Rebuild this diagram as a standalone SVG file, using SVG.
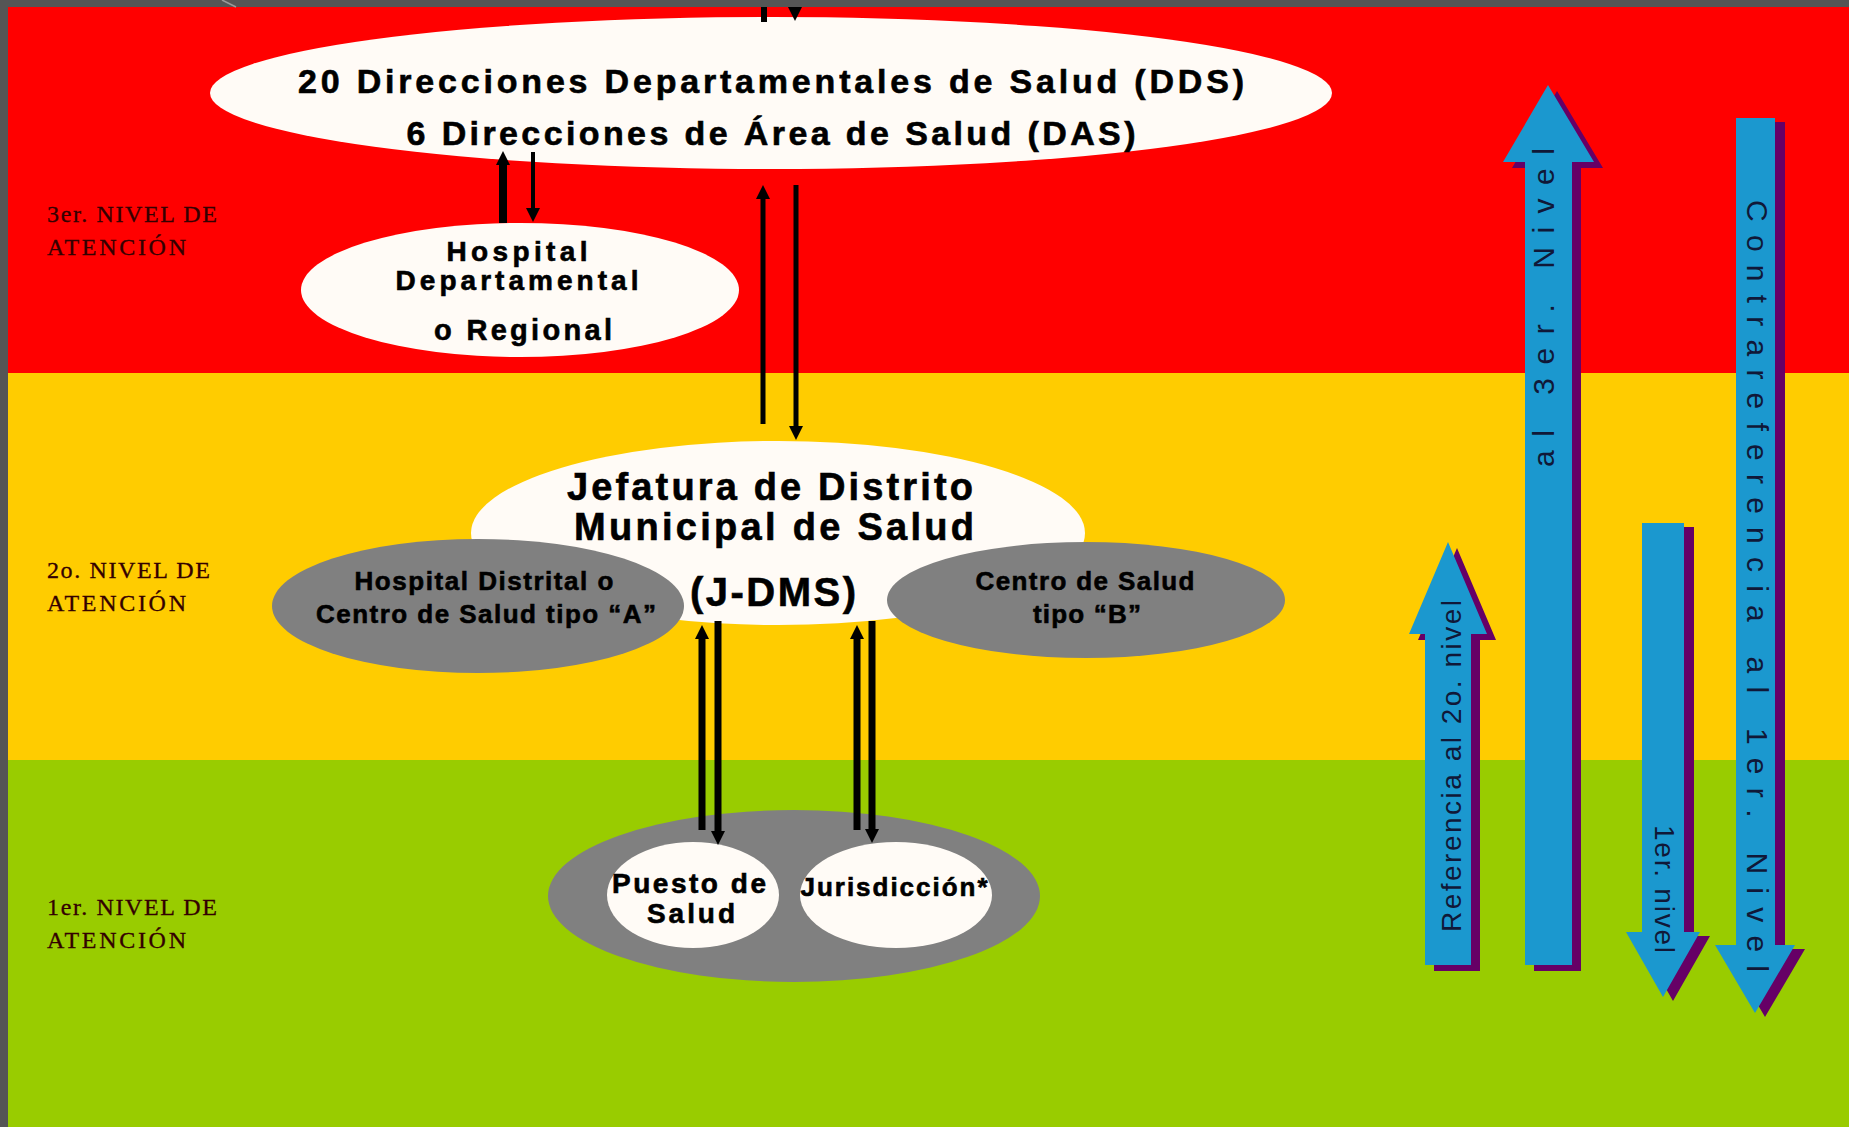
<svg xmlns="http://www.w3.org/2000/svg" width="1849" height="1127" viewBox="0 0 1849 1127">
<style>
.lvl{font-family:"Liberation Serif","Times New Roman",serif;font-size:24px;fill:#330000;stroke:#330000;stroke-width:0.3}
.bt{font-family:"Liberation Sans",Arial,sans-serif;font-weight:bold;fill:#000;stroke:#000;stroke-width:0.6;text-anchor:middle}
.wt{fill:#FFFBF6}
.gr{fill:#808080}
.blue{fill:#1B98CF}
.shd{fill:#660066}
.at{font-family:"Liberation Sans",Arial,sans-serif;fill:#101838}
.ln{stroke:#000;fill:none}
</style>
<defs>
<marker id="ah" markerUnits="userSpaceOnUse" markerWidth="14" markerHeight="14" viewBox="0 0 14 14" refX="1" refY="7" orient="auto">
<path d="M0,0 L14,7 L0,14 Z" fill="#000"/>
</marker>
<path id="arrA" d="M1448,542 L1487,634 L1471,634 L1471,965 L1425,965 L1425,634 L1409,634 Z"/>
<path id="arrB" d="M1548,85 L1594,162 L1572,162 L1572,965 L1525,965 L1525,162 L1503,162 Z"/>
<path id="arrC" d="M1642,523 L1684,523 L1684,932 L1700,932 L1663,997 L1626,932 L1642,932 Z"/>
<path id="arrD" d="M1736,118 L1775,118 L1775,945 L1795,945 L1755,1013 L1715,945 L1736,945 Z"/>
</defs>

<g id="background">
<rect x="0" y="0" width="1849" height="1127" fill="#555555"/>
<rect x="8" y="7" width="1841" height="367" fill="#FF0000"/>
<rect x="8" y="373" width="1841" height="388" fill="#FFCC00"/>
<rect x="8" y="760" width="1841" height="367" fill="#99CC00"/>
<line x1="222" y1="0" x2="236" y2="7" stroke="#9a9a9a" stroke-width="1.5"/>
</g>

<g id="level-labels">
<text class="lvl" x="47" y="222" textLength="170">3er. NIVEL DE</text>
<text class="lvl" x="47" y="255" textLength="139">ATENCIÓN</text>
<text class="lvl" x="47" y="578" textLength="163">2o. NIVEL DE</text>
<text class="lvl" x="47" y="611" textLength="139">ATENCIÓN</text>
<text class="lvl" x="47" y="915" textLength="170">1er. NIVEL DE</text>
<text class="lvl" x="47" y="948" textLength="139">ATENCIÓN</text>
</g>

<g id="node-dds">
<ellipse class="wt" cx="771" cy="93" rx="561" ry="76"/>
<text class="bt" x="771" y="93" font-size="34" textLength="946">20 Direcciones Departamentales de Salud (DDS)</text>
<text class="bt" x="771" y="145" font-size="34" textLength="729">6 Direcciones de Área de Salud (DAS)</text>
</g>

<g id="node-hospital-departamental">
<ellipse class="wt" cx="520" cy="290" rx="219" ry="67"/>
<text class="bt" x="517" y="261" font-size="28" textLength="141">Hospital</text>
<text class="bt" x="517" y="290" font-size="28" textLength="243">Departamental</text>
<text class="bt" x="523" y="340" font-size="29" textLength="178">o Regional</text>
</g>

<g id="node-jdms">
<ellipse class="wt" cx="778" cy="533" rx="307" ry="92"/>
<text class="bt" x="770" y="500" font-size="38" textLength="406">Jefatura de Distrito</text>
<text class="bt" x="774" y="540" font-size="38" textLength="400">Municipal de Salud</text>
</g>

<g id="node-hospital-distrital">
<ellipse class="gr" cx="478" cy="606" rx="206" ry="67"/>
<text class="bt" x="484" y="590" font-size="26" textLength="259">Hospital Distrital o</text>
<text class="bt" x="486" y="623" font-size="26" textLength="340">Centro de Salud tipo “A”</text>
</g>

<g id="node-centro-b">
<ellipse class="gr" cx="1086" cy="600" rx="199" ry="58"/>
<text class="bt" x="1085" y="590" font-size="26" textLength="219">Centro de Salud</text>
<text class="bt" x="1087" y="623" font-size="26" textLength="108">tipo “B”</text>
</g>

<g id="node-jdms-label">
<text class="bt" x="773" y="606" font-size="40" textLength="166">(J-DMS)</text>
</g>

<g id="node-primer-nivel">
<ellipse class="gr" cx="794" cy="896" rx="246" ry="86"/>
</g>
<g id="node-puesto">
<ellipse class="wt" cx="693" cy="895" rx="86" ry="53"/>
<text class="bt" x="689" y="893" font-size="28" textLength="154">Puesto de</text>
<text class="bt" x="691" y="923" font-size="28" textLength="88">Salud</text>
</g>
<g id="node-jurisdiccion">
<ellipse class="wt" cx="896" cy="895" rx="96" ry="53"/>
<text class="bt" x="894" y="896" font-size="26" textLength="187">Jurisdicción*</text>
</g>

<g id="connectors">
<line class="ln" x1="764" y1="7" x2="764" y2="22" stroke-width="6"/>
<line class="ln" x1="795" y1="7" x2="795" y2="8" stroke-width="5" marker-end="url(#ah)"/>
<line class="ln" x1="503" y1="223" x2="503" y2="164" stroke-width="8" marker-end="url(#ah)"/>
<line class="ln" x1="533" y1="152" x2="533" y2="209" stroke-width="4" marker-end="url(#ah)"/>
<line class="ln" x1="763" y1="424" x2="763" y2="198" stroke-width="5" marker-end="url(#ah)"/>
<line class="ln" x1="796" y1="185" x2="796" y2="427" stroke-width="5" marker-end="url(#ah)"/>
<line class="ln" x1="702" y1="830" x2="702" y2="638" stroke-width="7" marker-end="url(#ah)"/>
<line class="ln" x1="718" y1="621" x2="718" y2="832" stroke-width="7" marker-end="url(#ah)"/>
<line class="ln" x1="857" y1="830" x2="857" y2="638" stroke-width="7" marker-end="url(#ah)"/>
<line class="ln" x1="872" y1="621" x2="872" y2="830" stroke-width="7" marker-end="url(#ah)"/>
</g>

<g id="arrow-referencia-2o">
<use href="#arrA" class="shd" transform="translate(9,6)"/>
<use href="#arrA" class="blue"/>
<text class="at" x="1461" y="932" font-size="28" textLength="332" transform="rotate(-90 1461 932)">Referencia al 2o. nivel</text>
</g>
<g id="arrow-referencia-3er">
<use href="#arrB" class="shd" transform="translate(9,6)"/>
<use href="#arrB" class="blue"/>
<text class="at" x="1554" y="467" font-size="30" textLength="319" transform="rotate(-90 1554 467)">al 3er. Nivel</text>
</g>
<g id="arrow-contra-1er">
<use href="#arrC" class="shd" transform="translate(10,4)"/>
<use href="#arrC" class="blue"/>
<text class="at" x="1655" y="825" font-size="28" textLength="128" transform="rotate(90 1655 825)">1er. nivel</text>
</g>
<g id="arrow-contrareferencia">
<use href="#arrD" class="shd" transform="translate(10,4)"/>
<use href="#arrD" class="blue"/>
<text class="at" x="1747" y="200" font-size="30" textLength="772" transform="rotate(90 1747 200)">Contrareferencia al 1er. Nivel</text>
</g>
</svg>
